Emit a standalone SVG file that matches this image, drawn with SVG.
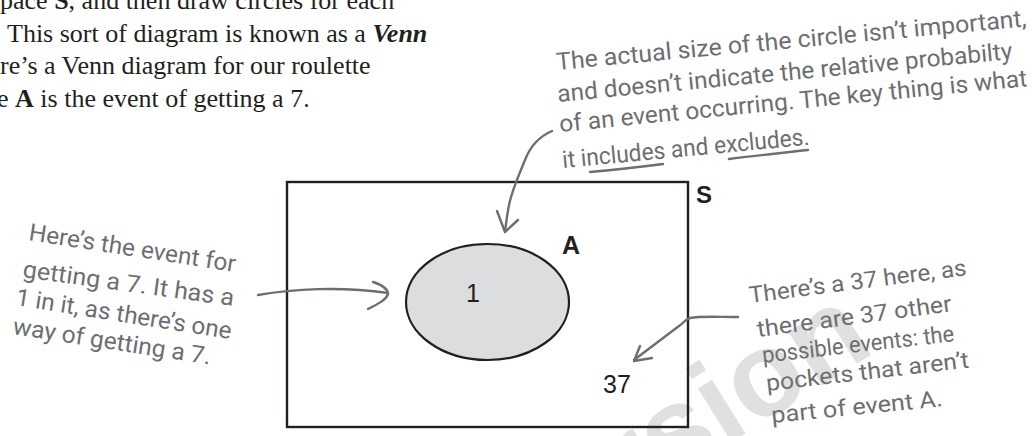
<svg xmlns="http://www.w3.org/2000/svg" width="1032" height="436" viewBox="0 0 1032 436">
  <style>
    .body { font-family: "Liberation Serif", "Times New Roman", serif; font-size: 26px; fill: #231f20; }
    .note { font-family: "Roboto", "Open Sans", sans-serif; fill: #6d6e71; }
    .lbl { font-family: "Liberation Sans", Arial, sans-serif; fill: #231f20; }
    .wm { font-family: "Liberation Sans", Arial, sans-serif; font-weight: bold; font-size: 120px; fill: #e0e0e1; }
    .pen { fill: none; stroke: #6d6e71; stroke-width: 2.4; stroke-linecap: round; stroke-linejoin: round; }
  </style>
  <rect width="1032" height="436" fill="#ffffff"/>

  <g id="watermark">
    <text class="wm" x="668" y="482" text-anchor="end" transform="rotate(-32 668 482)">ver</text>
    <text class="wm" x="668" y="482" transform="rotate(-32 668 482)">sion</text>
  </g>

  <g id="body-text">
    <text class="body" x="0" y="9">pace <tspan font-weight="bold">S</tspan>, and then draw circles for each</text>
    <text class="body" x="7" y="41.5">This sort of diagram is known as a <tspan font-weight="bold" font-style="italic">Venn</tspan></text>
    <text class="body" x="0" y="74">re’s a Venn diagram for our roulette</text>
    <text class="body" x="-3" y="107">e <tspan font-weight="bold">A</tspan> is the event of getting a 7.</text>
  </g>

  <g id="node-S">
    <rect x="287" y="182" width="401" height="245" fill="none" stroke="#231f20" stroke-width="2.4"/>
    <text class="lbl" x="696" y="203" font-size="24" font-weight="bold">S</text>
    <text class="lbl" x="603" y="393" font-size="25">37</text>
  </g>

  <g id="node-A">
    <ellipse cx="487.5" cy="302" rx="81.5" ry="58" fill="#dcddde" stroke="#231f20" stroke-width="2.2"/>
    <text class="lbl" x="466" y="302" font-size="25">1</text>
    <text class="lbl" x="562" y="254" font-size="25" font-weight="bold">A</text>
  </g>

  <g id="note-top" class="note" font-size="24">
    <text x="557" y="70" transform="rotate(-5.3 557 70)" textLength="472" lengthAdjust="spacingAndGlyphs">The actual size of the circle isn’t important,</text>
    <text x="558" y="102" transform="rotate(-5.4 558 102)" textLength="457" lengthAdjust="spacingAndGlyphs">and doesn’t indicate the relative probabilty</text>
    <text x="560" y="132" transform="rotate(-5.6 560 132)" textLength="470" lengthAdjust="spacingAndGlyphs">of an event occurring. The key thing is what</text>
    <text x="563" y="168" transform="rotate(-5.4 563 168)" textLength="248" lengthAdjust="spacingAndGlyphs">it includes and excludes.</text>
    <path class="pen" d="M590,172 C612,170 640,167 663,164"/>
    <path class="pen" d="M729,159 C752,156 782,153 808,150"/>
  </g>

  <g id="note-left" class="note" font-size="24">
    <text x="28" y="240" transform="rotate(8.8 28 240)" textLength="209" lengthAdjust="spacingAndGlyphs">Here’s the event for</text>
    <text x="22" y="277" transform="rotate(7.8 22 277)" textLength="213" lengthAdjust="spacingAndGlyphs">getting a 7. It has a</text>
    <text x="15" y="305" transform="rotate(9 15 305)" textLength="218" lengthAdjust="spacingAndGlyphs">1 in it, as there’s one</text>
    <text x="12" y="334" transform="rotate(8.8 12 334)" textLength="200" lengthAdjust="spacingAndGlyphs">way of getting a 7.</text>
  </g>

  <g id="note-right" class="note" font-size="23">
    <text x="750" y="303" transform="rotate(-7.3 750 303)" textLength="219" lengthAdjust="spacingAndGlyphs">There’s a 37 here, as</text>
    <text x="758" y="337" transform="rotate(-7.6 758 337)" textLength="196" lengthAdjust="spacingAndGlyphs">there are 37 other</text>
    <text x="763" y="363" transform="rotate(-6.5 763 363)" textLength="193" lengthAdjust="spacingAndGlyphs">possible events: the</text>
    <text x="767" y="391" transform="rotate(-6.6 767 391)" textLength="204" lengthAdjust="spacingAndGlyphs">pockets that aren’t</text>
    <text x="772" y="423" transform="rotate(-5.6 772 423)" textLength="172" lengthAdjust="spacingAndGlyphs">part of event A.</text>
  </g>

  <g id="connectors">
    <path class="pen" d="M552,131 C538,137 530,147 525,160 C519,175 512,190 509,205 C507,215 506,224 505,232"/>
    <path class="pen" d="M497,211 L505,232 L518,220"/>
    <path class="pen" d="M258,295 C292,289 340,286 388,293"/>
    <path class="pen" d="M373,282 C382,285 388,289 388,294 C386,300 378,304 368,309"/>
    <path class="pen" d="M738,317 C716,317 700,316 690,318 C685,319 684,323 679,326 L634,360"/>
    <path class="pen" d="M652,358 L634,361 L640,346"/>
  </g>
</svg>
